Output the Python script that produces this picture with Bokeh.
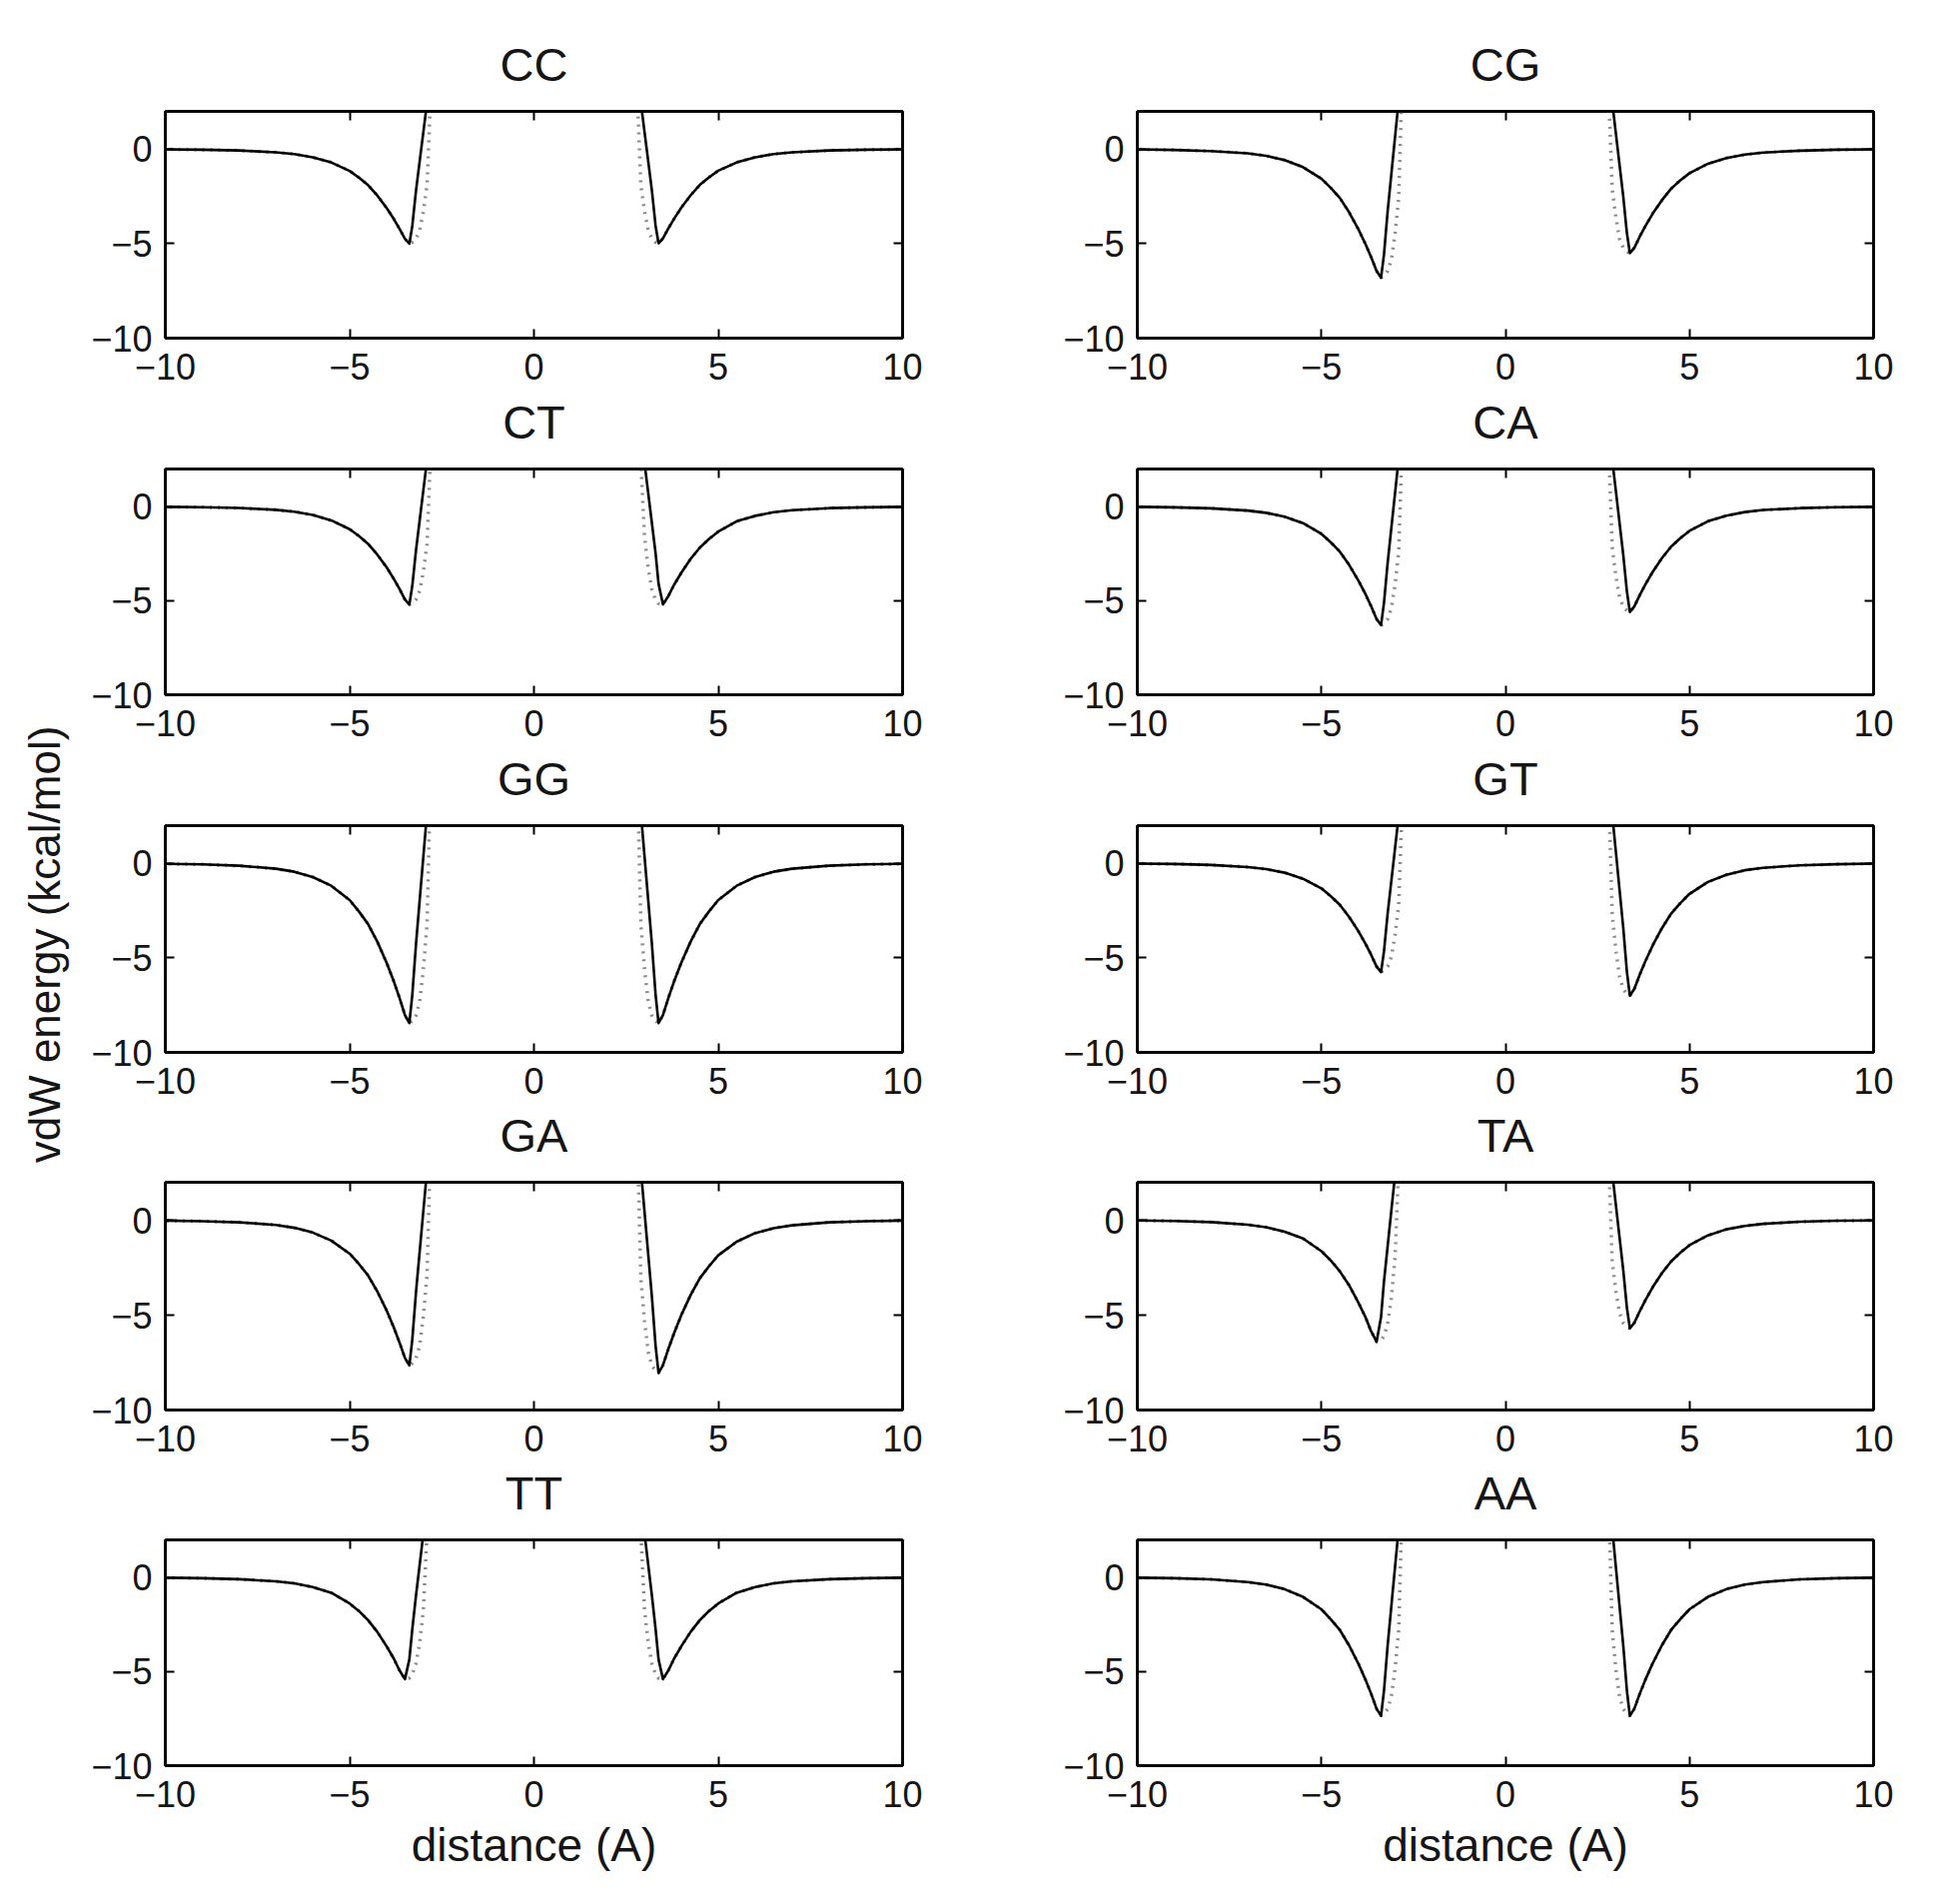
import math
from bokeh.plotting import figure
from bokeh.models import Range1d, FixedTicker, LinearAxis, Label
from bokeh.layouts import row, column
from bokeh.embed import file_html
from bokeh.resources import INLINE

# ---------------- data ----------------
PAIRS = ["CC", "CG", "CT", "CA", "GG", "GT", "GA", "TA", "TT", "AA"]

X_TICKS = [-10, -5, 0, 5, 10]
Y_TICKS = [-10, -5, 0]
X_TICK_LABELS = {-10: "\u221210", -5: "\u22125", 0: "0", 5: "5", 10: "10"}
Y_TICK_LABELS = {-10: "\u221210", -5: "\u22125", 0: "0"}

X_TITLE = "distance (A)"
Y_TITLE = "vdW energy (kcal/mol)"

# distance from the centre (A); left well is drawn at -d, right well at +d
DIST = [2.8, 2.9, 3.0, 3.1, 3.2, 3.3, 3.38, 3.5, 3.65, 3.8, 4.0, 4.25, 4.5, 4.75,
        5.0, 5.5, 6.0, 6.5, 7.0, 8.0, 9.0, 10.0]

# solid curve, energy (kcal/mol) at each DIST
CC_L = [4.02, 2.47, 0.91, -0.64, -2.20, -4.05, -5.00, -4.74, -4.20, -3.70, -3.10, -2.45, -1.90, -1.50, -1.15, -0.70, -0.43, -0.26, -0.17, -0.07, -0.03, -0.01]
CC_R = [4.02, 2.47, 0.91, -0.64, -2.20, -4.05, -4.98, -4.72, -4.18, -3.69, -3.09, -2.44, -1.89, -1.49, -1.14, -0.70, -0.43, -0.26, -0.17, -0.07, -0.03, -0.01]
CG_L = [4.54, 2.59, 0.63, -1.32, -3.28, -5.58, -6.80, -6.45, -5.71, -5.03, -4.22, -3.33, -2.58, -2.04, -1.56, -0.95, -0.58, -0.35, -0.22, -0.10, -0.04, -0.01]
CG_R = [4.17, 2.50, 0.83, -0.83, -2.50, -4.45, -5.50, -5.22, -4.62, -4.07, -3.41, -2.70, -2.09, -1.65, -1.27, -0.77, -0.47, -0.29, -0.18, -0.08, -0.03, -0.01]
CT_L = [4.08, 2.48, 0.88, -0.72, -2.32, -4.20, -5.20, -4.94, -4.37, -3.85, -3.22, -2.55, -1.98, -1.56, -1.20, -0.73, -0.44, -0.27, -0.17, -0.07, -0.03, -0.01]
CT_R = [5.52, 3.92, 2.32, 0.72, -0.88, -2.48, -4.10, -5.20, -4.74, -4.16, -3.51, -2.78, -2.18, -1.72, -1.33, -0.78, -0.49, -0.30, -0.19, -0.08, -0.04, -0.01]
CA_L = [4.40, 2.55, 0.71, -1.14, -2.98, -5.12, -6.30, -5.98, -5.29, -4.66, -3.91, -3.09, -2.39, -1.89, -1.45, -0.88, -0.54, -0.33, -0.21, -0.09, -0.04, -0.01]
CA_R = [4.20, 2.51, 0.82, -0.87, -2.56, -4.52, -5.60, -5.31, -4.70, -4.14, -3.47, -2.74, -2.13, -1.68, -1.29, -0.78, -0.48, -0.29, -0.18, -0.08, -0.03, -0.01]
GG_L = [5.02, 2.70, 0.37, -1.95, -4.27, -6.95, -8.45, -8.02, -7.10, -6.25, -5.24, -4.14, -3.21, -2.54, -1.94, -1.18, -0.72, -0.44, -0.28, -0.12, -0.05, -0.02]
GG_R = [5.02, 2.70, 0.37, -1.95, -4.27, -6.95, -8.45, -8.02, -7.10, -6.25, -5.24, -4.14, -3.21, -2.54, -1.94, -1.18, -0.72, -0.44, -0.28, -0.12, -0.05, -0.02]
GT_L = [4.24, 2.52, 0.79, -0.93, -2.65, -4.66, -5.75, -5.46, -4.83, -4.26, -3.57, -2.82, -2.19, -1.73, -1.32, -0.81, -0.49, -0.30, -0.19, -0.08, -0.03, -0.01]
GT_R = [4.60, 2.60, 0.60, -1.40, -3.40, -5.75, -7.00, -6.64, -5.88, -5.18, -4.34, -3.43, -2.66, -2.10, -1.61, -0.98, -0.60, -0.36, -0.23, -0.10, -0.04, -0.01]
GA_L = [4.79, 2.64, 0.50, -1.65, -3.79, -6.28, -7.65, -7.26, -6.43, -5.66, -4.74, -3.75, -2.91, -2.30, -1.76, -1.07, -0.65, -0.40, -0.25, -0.11, -0.05, -0.02]
GA_R = [4.90, 2.67, 0.44, -1.80, -4.03, -6.62, -8.05, -7.64, -6.76, -5.96, -4.99, -3.94, -3.06, -2.42, -1.85, -1.13, -0.68, -0.42, -0.27, -0.11, -0.05, -0.02]
TA_L = [6.11, 4.24, 2.37, 0.51, -1.36, -3.23, -5.10, -6.40, -5.85, -5.12, -4.32, -3.42, -2.69, -2.11, -1.63, -0.96, -0.61, -0.37, -0.24, -0.10, -0.04, -0.01]
TA_R = [4.22, 2.51, 0.80, -0.91, -2.62, -4.62, -5.70, -5.41, -4.79, -4.22, -3.53, -2.79, -2.17, -1.71, -1.31, -0.80, -0.48, -0.30, -0.19, -0.08, -0.03, -0.01]
TT_L = [5.62, 3.97, 2.33, 0.68, -0.96, -2.75, -4.35, -5.40, -4.93, -4.32, -3.65, -2.89, -2.27, -1.78, -1.38, -0.81, -0.51, -0.31, -0.20, -0.09, -0.04, -0.01]
TT_R = [5.62, 3.97, 2.33, 0.68, -0.96, -2.75, -4.35, -5.40, -4.93, -4.32, -3.65, -2.89, -2.27, -1.78, -1.38, -0.81, -0.51, -0.31, -0.20, -0.09, -0.04, -0.01]
AA_L = [4.70, 2.62, 0.55, -1.53, -3.61, -6.03, -7.35, -6.98, -6.17, -5.44, -4.56, -3.60, -2.79, -2.21, -1.69, -1.03, -0.62, -0.38, -0.24, -0.10, -0.04, -0.01]
AA_R = [4.70, 2.62, 0.55, -1.53, -3.61, -6.03, -7.35, -6.98, -6.17, -5.44, -4.56, -3.60, -2.79, -2.21, -1.69, -1.03, -0.62, -0.38, -0.24, -0.10, -0.04, -0.01]

# dotted curve near the repulsive wall (first 8 DIST values); beyond that it lies on the solid curve
CC_L_DOT = [3.00, -1.90, -3.30, -4.30, -4.75, -4.92, -5.00, -4.74]
CC_R_DOT = [3.00, -1.90, -3.30, -4.30, -4.75, -4.92, -4.98, -4.72]
CG_L_DOT = [4.08, -2.60, -4.50, -5.85, -6.45, -6.70, -6.80, -6.45]
CG_R_DOT = [3.30, -2.10, -3.60, -4.75, -5.22, -5.42, -5.50, -5.22]
CT_L_DOT = [3.12, -2.00, -3.45, -4.48, -4.94, -5.12, -5.20, -4.94]
CT_R_DOT = [6.24, 2.34, -1.60, -3.30, -4.40, -4.95, -5.15, -5.20]
CA_L_DOT = [3.78, -2.40, -4.15, -5.40, -5.98, -6.20, -6.30, -5.98]
CA_R_DOT = [3.36, -2.15, -3.70, -4.82, -5.32, -5.52, -5.60, -5.31]
GG_L_DOT = [5.07, -3.20, -5.60, -7.30, -8.05, -8.33, -8.45, -8.02]
GG_R_DOT = [5.07, -3.20, -5.60, -7.30, -8.05, -8.33, -8.45, -8.02]
GT_L_DOT = [3.45, -2.20, -3.80, -4.95, -5.46, -5.66, -5.75, -5.46]
GT_R_DOT = [4.20, -2.65, -4.60, -6.00, -6.65, -6.90, -7.00, -6.64]
GA_L_DOT = [4.59, -2.90, -5.05, -6.60, -7.28, -7.53, -7.65, -7.26]
GA_R_DOT = [4.83, -3.05, -5.30, -6.95, -7.66, -7.93, -8.05, -7.64]
TA_L_DOT = [7.68, 2.88, -2.00, -4.10, -5.45, -6.10, -6.34, -6.40]
TA_R_DOT = [3.42, -2.18, -3.75, -4.90, -5.41, -5.61, -5.70, -5.41]
TT_L_DOT = [6.48, 2.43, -1.70, -3.45, -4.58, -5.14, -5.35, -5.40]
TT_R_DOT = [6.48, 2.43, -1.70, -3.45, -4.58, -5.14, -5.35, -5.40]
AA_L_DOT = [4.41, -2.80, -4.85, -6.33, -6.99, -7.24, -7.35, -6.98]
AA_R_DOT = [4.41, -2.80, -4.85, -6.33, -6.99, -7.24, -7.35, -6.98]

SOLID = {
    "CC": (CC_L, CC_R), "CG": (CG_L, CG_R), "CT": (CT_L, CT_R), "CA": (CA_L, CA_R),
    "GG": (GG_L, GG_R), "GT": (GT_L, GT_R), "GA": (GA_L, GA_R), "TA": (TA_L, TA_R),
    "TT": (TT_L, TT_R), "AA": (AA_L, AA_R),
}
DOTTED = {
    "CC": (CC_L_DOT, CC_R_DOT), "CG": (CG_L_DOT, CG_R_DOT), "CT": (CT_L_DOT, CT_R_DOT),
    "CA": (CA_L_DOT, CA_R_DOT), "GG": (GG_L_DOT, GG_R_DOT), "GT": (GT_L_DOT, GT_R_DOT),
    "GA": (GA_L_DOT, GA_R_DOT), "TA": (TA_L_DOT, TA_R_DOT), "TT": (TT_L_DOT, TT_R_DOT),
    "AA": (AA_L_DOT, AA_R_DOT),
}

# ---------------- layout / style ----------------
FONT = "Liberation Sans"
LAB_W = 80
COLS = [dict(w=848, bl=85, br=25), dict(w=977, bl=210, br=30)]
ROWS = [dict(h=391, bt=111, bb=53), dict(h=357, bt=78, bb=53), dict(h=357, bt=78, bb=52),
        dict(h=358, bt=78, bb=52), dict(h=429, bt=78, bb=125)]
TOTAL_H = sum(r["h"] for r in ROWS)


def style_axis(ax, ticks, labels, show, standoff):
    ax.ticker = FixedTicker(ticks=ticks)
    ax.major_label_overrides = labels if show else {t: "" for t in ticks}
    ax.major_tick_in = 9
    ax.major_tick_out = 0
    ax.minor_tick_line_color = None
    ax.major_tick_line_color = "black"
    ax.major_tick_line_width = 2
    ax.axis_line_color = "black"
    ax.axis_line_width = 2.5
    ax.major_label_text_font = FONT
    ax.major_label_text_font_size = "36px" if show else "1px"
    ax.major_label_text_color = "#151515"
    ax.major_label_standoff = standoff


def make_panel(name, ci, ri):
    c, r = COLS[ci], ROWS[ri]
    p = figure(width=c["w"], height=r["h"], x_range=Range1d(-10, 10), y_range=Range1d(-10, 2),
               output_backend="svg", toolbar_location=None, tools="",
               min_border_left=c["bl"], min_border_right=c["br"],
               min_border_top=r["bt"], min_border_bottom=r["bb"])
    p.title.text = name
    p.title.align = "center"
    p.title.text_font = FONT
    p.title.text_font_size = "47px"
    p.title.text_font_style = "normal"
    p.title.text_color = "#151515"
    p.title.standoff = 2
    p.grid.visible = False
    p.outline_line_color = "black"
    p.outline_line_width = 2.5
    p.background_fill_color = "white"
    p.border_fill_color = "white"

    bottom = p.xaxis[0]
    style_axis(bottom, X_TICKS, X_TICK_LABELS, True, 15)
    style_axis(p.yaxis[0], Y_TICKS, Y_TICK_LABELS, True, 13)
    top = LinearAxis()
    style_axis(top, X_TICKS, X_TICK_LABELS, False, 0)
    p.add_layout(top, "above")
    # invisible spacer between the frame and the panel title
    spacer = LinearAxis(ticker=FixedTicker(ticks=X_TICKS),
                        major_label_overrides={t: "" for t in X_TICKS},
                        major_tick_in=0, major_tick_out=20, major_tick_line_color=None,
                        minor_tick_line_color=None, axis_line_color=None,
                        major_label_text_font_size="1px", major_label_standoff=0)
    p.add_layout(spacer, "above")
    right = LinearAxis()
    style_axis(right, Y_TICKS, Y_TICK_LABELS, False, 0)
    p.add_layout(right, "right")

    if ri == len(ROWS) - 1:
        bottom.axis_label = X_TITLE
        bottom.axis_label_text_font = FONT
        bottom.axis_label_text_font_size = "46px"
        bottom.axis_label_text_font_style = "normal"
        bottom.axis_label_text_color = "#151515"
        bottom.axis_label_standoff = 9

    left, right_vals = SOLID[name]
    dl, dr = DOTTED[name]
    xl = [-d for d in DIST]
    xr = list(DIST)
    dot_kw = dict(line_color="#8a8a8a", line_width=3.5, line_dash="2 6")
    p.line(xl, dl + left[len(dl):], **dot_kw)
    p.line(xr, dr + right_vals[len(dr):], **dot_kw)
    sol_kw = dict(line_color="black", line_width=2.6, line_join="round")
    p.line(xl, left, **sol_kw)
    p.line(xr, right_vals, **sol_kw)
    return p


rows = []
for ri in range(5):
    rows.append(row(make_panel(PAIRS[2 * ri], 0, ri), make_panel(PAIRS[2 * ri + 1], 1, ri)))

lab = figure(width=LAB_W, height=TOTAL_H, x_range=Range1d(0, LAB_W), y_range=Range1d(0, TOTAL_H),
             output_backend="svg", toolbar_location=None, tools="",
             min_border_left=0, min_border_right=0, min_border_top=0, min_border_bottom=0)
lab.axis.visible = False
lab.grid.visible = False
lab.outline_line_color = None
lab.add_layout(Label(x=44, y=TOTAL_H - 945, text=Y_TITLE, angle=math.pi / 2,
                     text_align="center", text_baseline="middle", text_font=FONT,
                     text_font_size="44px", text_color="#151515"))

layout = row(lab, column(*rows))
open("out.html", "w").write(file_html(layout, INLINE))
